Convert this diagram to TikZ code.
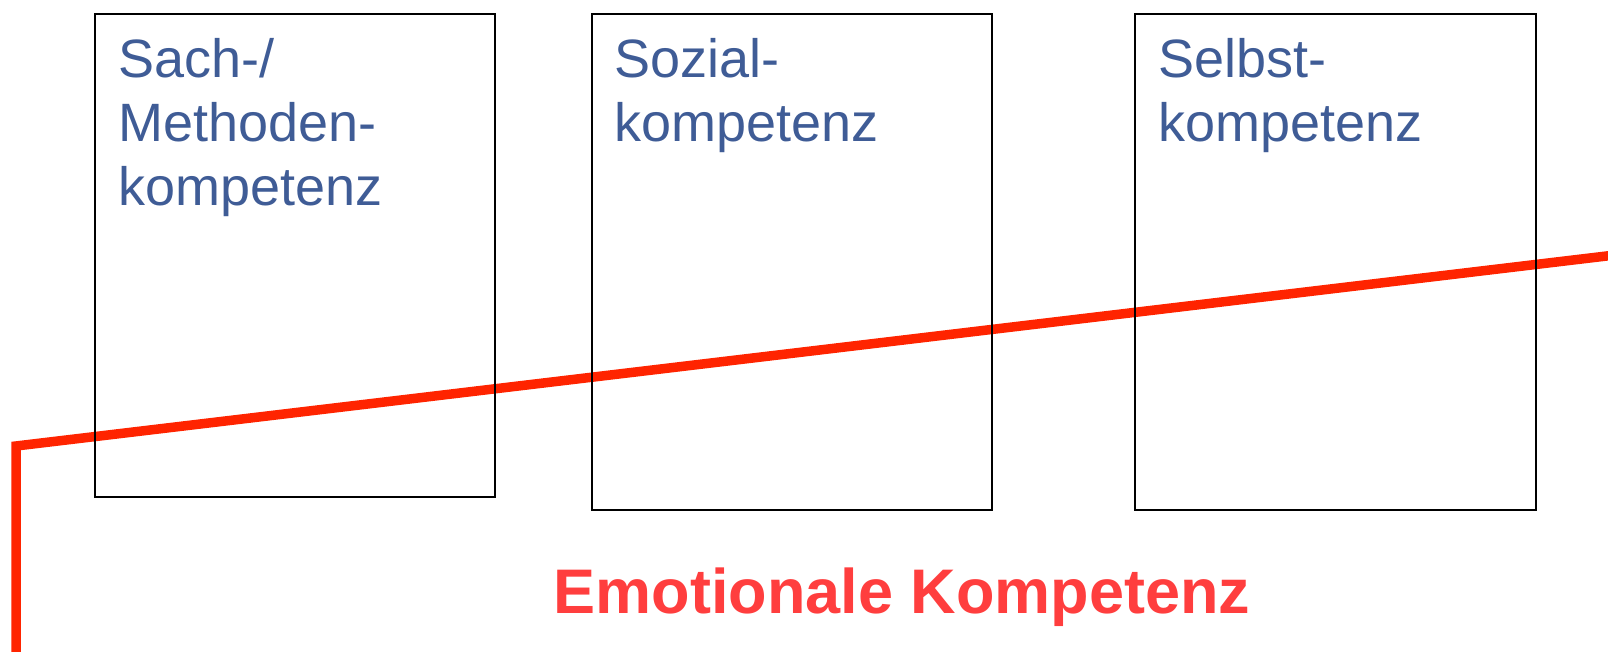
\documentclass[tikz,border=0pt]{standalone}
\usepackage{fontspec}
\setmainfont{Liberation Sans}
\definecolor{boxblue}{RGB}{63,92,150}
\definecolor{linered}{RGB}{255,36,0}
\definecolor{textred}{RGB}{255,62,62}
\tikzset{
  x=1pt, y=-1pt,
  kbox/.style={draw=black, line width=2.6pt, fill=none},
  ktext/.style={anchor=base west, inner sep=0pt, align=left, text=boxblue,
    font=\fontsize{54}{64}\selectfont},
  redline/.style={draw=linered, line width=9.5pt, line join=miter},
}
\begin{document}
\begin{tikzpicture}
\useasboundingbox (0,0) rectangle (1608,651);
% red line
\coordinate (rb) at (16,660);
\coordinate (rc) at (16,446);
\coordinate (re) at (1615,255);
\draw[redline] (rb) -- (rc) -- (re);
% boxes
\draw[kbox] (95,14) rectangle (495,497);
\draw[kbox] (592,14) rectangle (992,510);
\draw[kbox] (1135,14) rectangle (1536,510);
\node[ktext] (t1) at (118,205) {Sach-/\\Methoden-\\kompetenz};
\node[ktext] (t2) at (614,141) {Sozial-\\kompetenz};
\node[ktext] (t3) at (1158,141) {Selbst-\\kompetenz};
\node[anchor=base, inner sep=0pt, text=textred, font=\fontsize{63}{75}\selectfont\bfseries] (em) at (902,613) {Emotionale Kompetenz};
\end{tikzpicture}
\end{document}
